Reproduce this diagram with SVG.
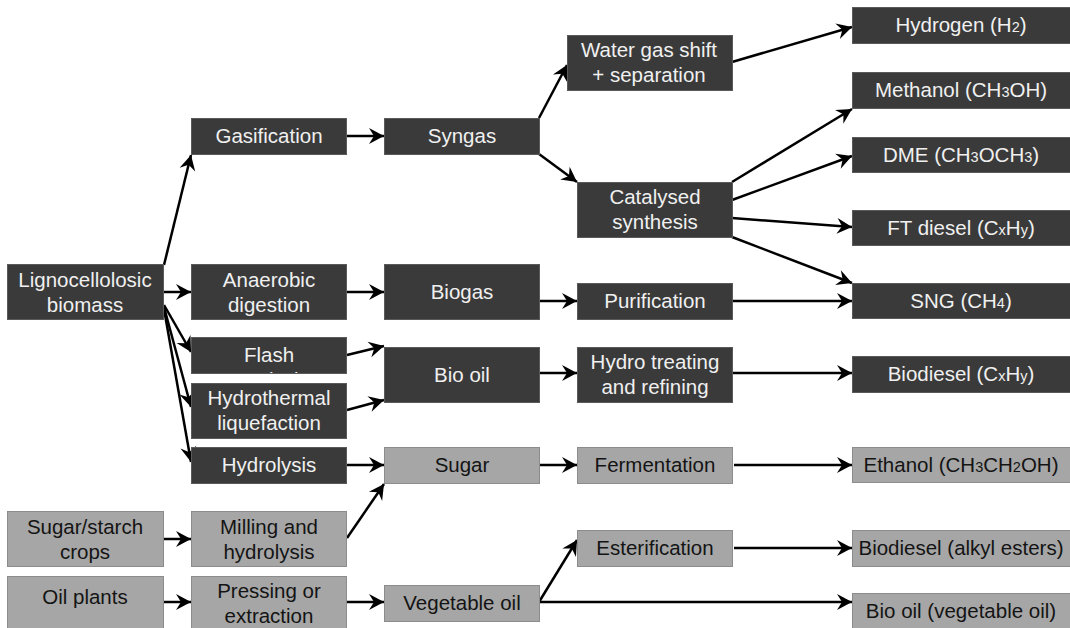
<svg xmlns="http://www.w3.org/2000/svg" width="1070" height="628" viewBox="0 0 1070 628">
<style>
.d rect{fill:#3a3a3a;stroke:#5a5a5a;stroke-width:1}
.g rect{fill:#a6a6a6;stroke:#8c8c8c;stroke-width:1}
text{font-family:"Liberation Sans",Arial,sans-serif;font-size:20.5px;text-anchor:middle}
.d text{fill:#f0f0f0}
.g text{fill:#141414}
.s{font-size:14.5px}
#connectors line{stroke:#000;stroke-width:2.5;marker-end:url(#ah)}
</style>
<defs>
<marker id="ah" markerUnits="userSpaceOnUse" viewBox="-16 -9 17 18" refX="0" refY="0" markerWidth="17" markerHeight="18" orient="auto">
<path d="M0,0 L-15,-8 L-10,0 L-15,8 Z" fill="#000"/>
</marker>
<clipPath id="flashclip"><rect x="191" y="337" width="156" height="36"/></clipPath>
</defs>
<rect width="1070" height="628" fill="#fff"/>

<g id="connectors">
<line x1="164" y1="265" x2="191" y2="155"/>
<line x1="163" y1="292" x2="191" y2="292"/>
<line x1="164" y1="305" x2="191" y2="352"/>
<line x1="164" y1="307" x2="191" y2="407"/>
<line x1="164" y1="309" x2="191" y2="462"/>
<line x1="347" y1="136" x2="384" y2="136"/>
<line x1="539" y1="118" x2="567" y2="65"/>
<line x1="539" y1="154" x2="577" y2="182"/>
<line x1="732" y1="62" x2="852" y2="27"/>
<line x1="732" y1="182" x2="852" y2="109"/>
<line x1="732" y1="200" x2="852" y2="156"/>
<line x1="732" y1="218" x2="852" y2="227"/>
<line x1="732" y1="237" x2="852" y2="283"/>
<line x1="347" y1="292" x2="384" y2="292"/>
<line x1="539" y1="301" x2="577" y2="301"/>
<line x1="732" y1="301" x2="852" y2="301"/>
<line x1="347" y1="355" x2="384" y2="346"/>
<line x1="347" y1="410" x2="384" y2="400"/>
<line x1="539" y1="373" x2="577" y2="373"/>
<line x1="732" y1="373" x2="852" y2="373"/>
<line x1="347" y1="465" x2="384" y2="465"/>
<line x1="347" y1="538" x2="384" y2="484"/>
<line x1="539" y1="465" x2="577" y2="465"/>
<line x1="734" y1="465" x2="852" y2="465"/>
<line x1="163" y1="539" x2="191" y2="539"/>
<line x1="163" y1="602" x2="191" y2="602"/>
<line x1="347" y1="602" x2="384" y2="602"/>
<line x1="539" y1="602" x2="577" y2="540"/>
<line x1="539" y1="602" x2="852" y2="602"/>
<line x1="734" y1="548" x2="852" y2="548"/>
</g>

<g id="gasification" class="d"><rect x="191.5" y="118.5" width="155" height="36"/><text x="269" y="143">Gasification</text></g>
<g id="syngas" class="d"><rect x="384.5" y="118.5" width="155" height="36"/><text x="462" y="143">Syngas</text></g>
<g id="wgs" class="d"><rect x="567.5" y="35.5" width="165" height="55"/><text x="649" y="57">Water gas shift</text><text x="649" y="82">+ separation</text></g>
<g id="hydrogen" class="d"><rect x="852.5" y="7.5" width="218" height="36"/><text x="961" y="32">Hydrogen (H<tspan class="s">2</tspan>)</text></g>
<g id="methanol" class="d"><rect x="852.5" y="72.5" width="218" height="36"/><text x="961" y="97">Methanol (CH<tspan class="s">3</tspan>OH)</text></g>
<g id="dme" class="d"><rect x="852.5" y="137.5" width="218" height="35"/><text x="961" y="162">DME (CH<tspan class="s">3</tspan>OCH<tspan class="s">3</tspan>)</text></g>
<g id="catalysed" class="d"><rect x="577.5" y="182.5" width="155" height="55"/><text x="655" y="204">Catalysed</text><text x="655" y="229">synthesis</text></g>
<g id="ftdiesel" class="d"><rect x="852.5" y="210.5" width="218" height="35"/><text x="961" y="235">FT diesel (C<tspan class="s">x</tspan>H<tspan class="s">y</tspan>)</text></g>
<g id="ligno" class="d"><rect x="7.5" y="264.5" width="156" height="55"/><text x="85" y="286.5">Lignocellolosic</text><text x="85" y="311.5">biomass</text></g>
<g id="anaerobic" class="d"><rect x="191.5" y="264.5" width="155" height="55"/><text x="269" y="286.5">Anaerobic</text><text x="269" y="311.5">digestion</text></g>
<g id="biogas" class="d"><rect x="384.5" y="264.5" width="155" height="55"/><text x="462" y="299">Biogas</text></g>
<g id="purification" class="d"><rect x="577.5" y="283.5" width="155" height="36"/><text x="655" y="308">Purification</text></g>
<g id="sng" class="d"><rect x="852.5" y="283.5" width="218" height="35"/><text x="961" y="308">SNG (CH<tspan class="s">4</tspan>)</text></g>
<g id="flash" class="d"><rect x="191.5" y="337.5" width="155" height="36"/><g clip-path="url(#flashclip)"><text x="269" y="362">Flash</text><text x="269" y="387">pyrolysis</text></g></g>
<g id="biooil" class="d"><rect x="384.5" y="347.5" width="155" height="55"/><text x="462" y="381.5">Bio oil</text></g>
<g id="hydrotreating" class="d"><rect x="577.5" y="347.5" width="155" height="55"/><text x="655" y="369">Hydro treating</text><text x="655" y="394">and refining</text></g>
<g id="biodiesel" class="d"><rect x="852.5" y="356.5" width="218" height="36"/><text x="961" y="381">Biodiesel (C<tspan class="s">x</tspan>H<tspan class="s">y</tspan>)</text></g>
<g id="hydrothermal" class="d"><rect x="191.5" y="383.5" width="155" height="55"/><text x="269" y="405">Hydrothermal</text><text x="269" y="430">liquefaction</text></g>
<g id="hydrolysis" class="d"><rect x="191.5" y="447.5" width="155" height="36"/><text x="269" y="472">Hydrolysis</text></g>
<g id="sugar" class="g"><rect x="384.5" y="447.5" width="155" height="36"/><text x="462" y="472">Sugar</text></g>
<g id="fermentation" class="g"><rect x="577.5" y="447.5" width="155" height="36"/><text x="655" y="472">Fermentation</text></g>
<g id="ethanol" class="g"><rect x="852.5" y="447.5" width="218" height="35"/><text x="961" y="472">Ethanol (CH<tspan class="s">3</tspan>CH<tspan class="s">2</tspan>OH)</text></g>
<g id="sugarcrops" class="g"><rect x="7.5" y="511.5" width="156" height="55"/><text x="85" y="534">Sugar/starch</text><text x="85" y="559">crops</text></g>
<g id="milling" class="g"><rect x="191.5" y="511.5" width="155" height="55"/><text x="269" y="534">Milling and</text><text x="269" y="559">hydrolysis</text></g>
<g id="esterification" class="g"><rect x="577.5" y="530.5" width="155" height="36"/><text x="655" y="555">Esterification</text></g>
<g id="biodieselalkyl" class="g"><rect x="852.5" y="530.5" width="218" height="36"/><text x="961" y="555">Biodiesel (alkyl esters)</text></g>
<g id="oilplants" class="g"><rect x="7.5" y="576.5" width="156" height="55"/><text x="85" y="604">Oil plants</text></g>
<g id="pressing" class="g"><rect x="191.5" y="576.5" width="155" height="55"/><text x="269" y="598">Pressing or</text><text x="269" y="623">extraction</text></g>
<g id="vegoil" class="g"><rect x="384.5" y="585.5" width="155" height="36"/><text x="462" y="610">Vegetable oil</text></g>
<g id="biooilveg" class="g"><rect x="852.5" y="593.5" width="218" height="36"/><text x="961" y="618">Bio oil (vegetable oil)</text></g>
</svg>
